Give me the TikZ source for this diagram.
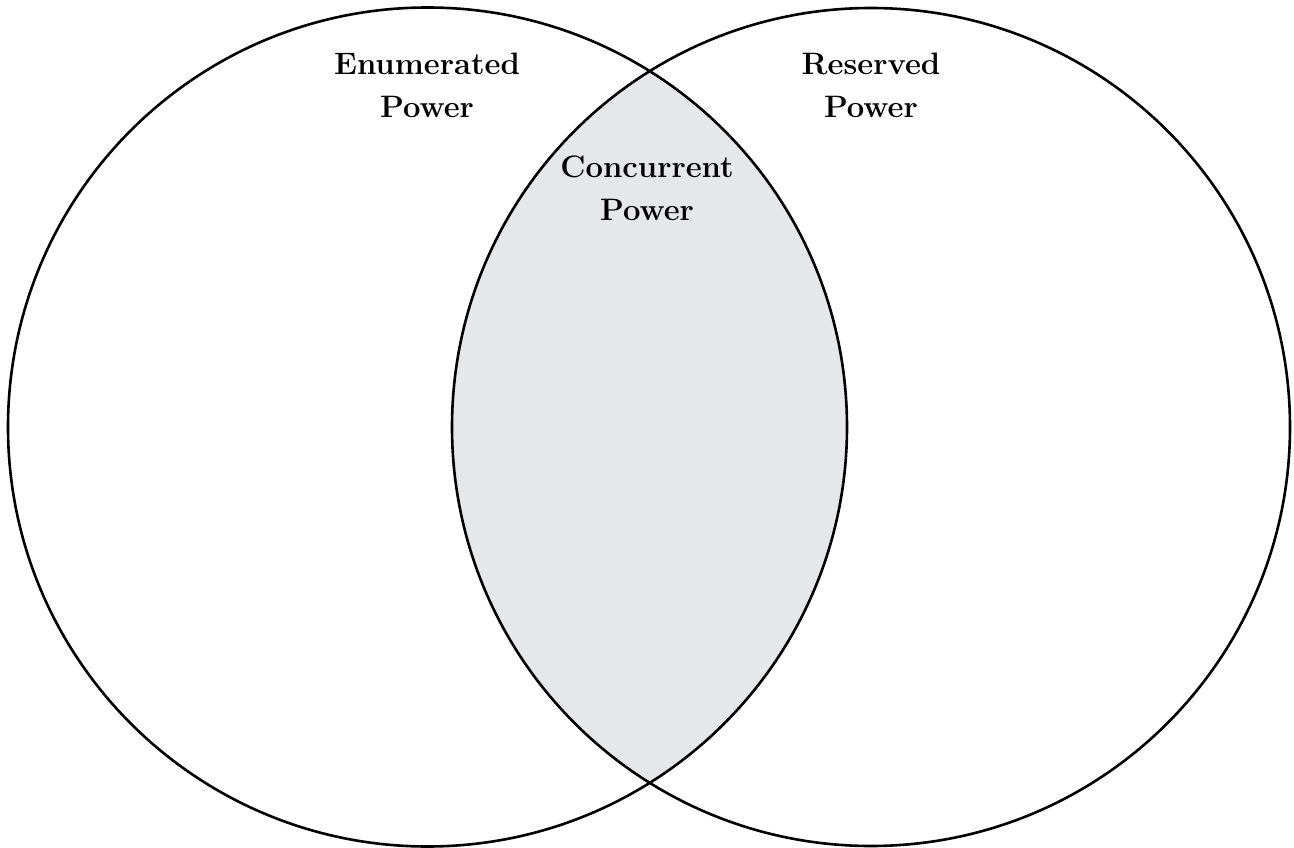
\documentclass[tikz,border=0pt]{standalone}
\definecolor{lens}{HTML}{E6E7E9}
\tikzset{
  ring/.style={draw=black, line width=2.6pt},
  lbl/.style={font=\fontsize{31}{43}\selectfont\bfseries, align=center, inner sep=0pt, anchor=base}
}
\begin{document}
\begin{tikzpicture}[x=1pt,y=-1pt]
\useasboundingbox (0,0) rectangle (1294,848);
\coordinate (L) at (427.5,427);
\coordinate (R) at (871,427);
\begin{scope}
  \clip (L) circle[radius=419.5pt];
  \fill[lens] (R) circle[radius=419pt];
\end{scope}
\draw[ring] (L) circle[radius=419.5pt];
\draw[ring] (R) circle[radius=419pt];
\node[lbl] (enum) at (427,118) {Enumerated\\Power};
\node[lbl] (res) at (871,118) {Reserved\\Power};
\node[lbl] (conc) at (647,220) {Concurrent\\Power};
\end{tikzpicture}
\end{document}
